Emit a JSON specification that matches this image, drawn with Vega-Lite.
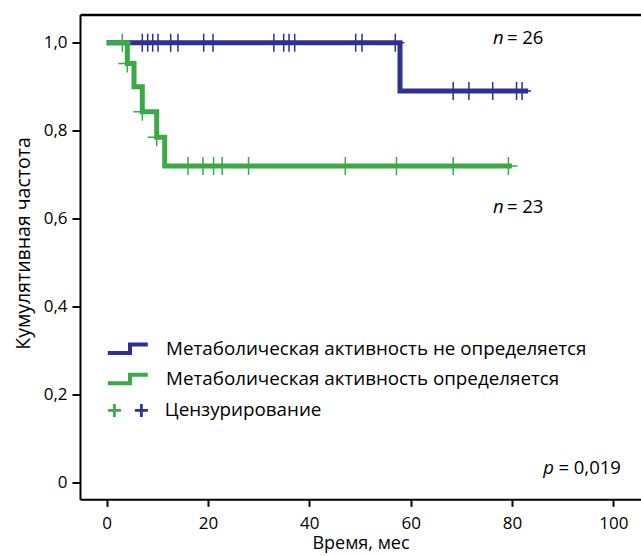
{
  "$schema": "https://vega.github.io/schema/vega-lite/v6.json",
  "autosize": {"type": "none"},
  "width": 561,
  "height": 484.8,
  "padding": {"left": 80, "top": 14.5, "right": 0, "bottom": 56.7},
  "background": "white",
  "config": {
    "view": {"stroke": null},
    "font": "Open Sans",
    "axis": {"grid": false, "labelFont": "Open Sans", "titleFont": "Open Sans", "labelColor": "black", "titleColor": "black", "titleFontWeight": "normal"},
    "legend": {"labelFont": "Open Sans", "labelColor": "black"}
  },
  "datasets": {
    "km": [
      {"group": "Метаболическая активность не определяется", "t": 0, "s": 1.0},
      {"group": "Метаболическая активность не определяется", "t": 57.9, "s": 0.89},
      {"group": "Метаболическая активность не определяется", "t": 83.2, "s": 0.89},
      {"group": "Метаболическая активность определяется", "t": 0, "s": 1.0},
      {"group": "Метаболическая активность определяется", "t": 4.07, "s": 0.953},
      {"group": "Метаболическая активность определяется", "t": 5.39, "s": 0.9},
      {"group": "Метаболическая активность определяется", "t": 7.03, "s": 0.843},
      {"group": "Метаболическая активность определяется", "t": 9.87, "s": 0.785},
      {"group": "Метаболическая активность определяется", "t": 11.45, "s": 0.72},
      {"group": "Метаболическая активность определяется", "t": 80.0, "s": 0.72}
    ],
    "cens": [
      {"group": "Метаболическая активность не определяется", "t": 7.03, "s": 1.0},
      {"group": "Метаболическая активность не определяется", "t": 8.09, "s": 1.0},
      {"group": "Метаболическая активность не определяется", "t": 9.08, "s": 1.0},
      {"group": "Метаболическая активность не определяется", "t": 10.13, "s": 1.0},
      {"group": "Метаболическая активность не определяется", "t": 12.63, "s": 1.0},
      {"group": "Метаболическая активность не определяется", "t": 14.07, "s": 1.0},
      {"group": "Метаболическая активность не определяется", "t": 19.15, "s": 1.0},
      {"group": "Метаболическая активность не определяется", "t": 20.98, "s": 1.0},
      {"group": "Метаболическая активность не определяется", "t": 33.0, "s": 1.0},
      {"group": "Метаболическая активность не определяется", "t": 34.94, "s": 1.0},
      {"group": "Метаболическая активность не определяется", "t": 35.99, "s": 1.0},
      {"group": "Метаболическая активность не определяется", "t": 37.11, "s": 1.0},
      {"group": "Метаболическая активность не определяется", "t": 49.15, "s": 1.0},
      {"group": "Метаболическая активность не определяется", "t": 50.4, "s": 1.0},
      {"group": "Метаболическая активность не определяется", "t": 56.97, "s": 1.0},
      {"group": "Метаболическая активность не определяется", "t": 68.4, "s": 0.89},
      {"group": "Метаболическая активность не определяется", "t": 71.5, "s": 0.89},
      {"group": "Метаболическая активность не определяется", "t": 76.2, "s": 0.89},
      {"group": "Метаболическая активность не определяется", "t": 80.9, "s": 0.89},
      {"group": "Метаболическая активность не определяется", "t": 82.0, "s": 0.89},
      {"group": "Метаболическая активность определяется", "t": 3.08, "s": 1.0},
      {"group": "Метаболическая активность определяется", "t": 4.07, "s": 0.953},
      {"group": "Метаболическая активность определяется", "t": 7.03, "s": 0.843},
      {"group": "Метаболическая активность определяется", "t": 9.87, "s": 0.785},
      {"group": "Метаболическая активность определяется", "t": 16.05, "s": 0.72},
      {"group": "Метаболическая активность определяется", "t": 19.0, "s": 0.72},
      {"group": "Метаболическая активность определяется", "t": 21.1, "s": 0.72},
      {"group": "Метаболическая активность определяется", "t": 22.8, "s": 0.72},
      {"group": "Метаболическая активность определяется", "t": 28.0, "s": 0.72},
      {"group": "Метаболическая активность определяется", "t": 47.1, "s": 0.72},
      {"group": "Метаболическая активность определяется", "t": 57.2, "s": 0.72},
      {"group": "Метаболическая активность определяется", "t": 68.4, "s": 0.72},
      {"group": "Метаболическая активность определяется", "t": 79.3, "s": 0.72}
    ]
  },
  "layer": [
    {
      "data": {"name": "km"},
      "mark": {"type": "line", "interpolate": "step-after", "strokeWidth": 5, "strokeCap": "butt"},
      "encoding": {
        "x": {"field": "t", "type": "quantitative",
          "scale": {"domain": [-5.27, 105.47], "nice": false, "zero": false},
          "axis": {"orient": "bottom", "values": [0, 20, 40, 60, 80, 100], "domain": true, "domainColor": "black", "domainWidth": 2,
            "ticks": true, "tickColor": "black", "tickWidth": 2, "tickSize": 7, "labelFontSize": 17, "labelPadding": 9,
            "title": "Время, мес", "titleFontSize": 18, "titlePadding": 3}},
        "y": {"field": "s", "type": "quantitative",
          "scale": {"domain": [-0.0377, 1.0641], "nice": false, "zero": false},
          "axis": {"values": [0, 0.2, 0.4, 0.6, 0.8, 1.0], "domain": true, "domainColor": "black", "domainWidth": 2,
            "ticks": true, "tickColor": "black", "tickWidth": 2, "tickSize": 8, "labelFontSize": 17, "labelPadding": 5,
            "labelExpr": "datum.value == 0 ? '0' : replace(format(datum.value, '.1f'), '.', ',')",
            "title": "Кумулятивная частота", "titleFontSize": 19.5, "titlePadding": 10, "titleY": 228.5}},
        "color": {"field": "group", "type": "nominal",
          "scale": {"domain": ["Метаболическая активность не определяется", "Метаболическая активность определяется"], "range": ["#2e3192", "#3aaa47"]},
          "legend": {"orient": "none", "legendX": 35.8, "legendY": 322.3, "title": null, "padding": 0,
            "symbolType": "M-2,0.425H0.22V-0.425H2", "symbolSize": 400, "symbolStrokeWidth": 4, "symbolFillColor": "transparent",
            "labelOffset": 26.2, "rowPadding": 4.2, "labelFontSize": 18.8, "labelLimit": 0, "direction": "vertical"}}
      }
    },
    {
      "data": {"name": "cens"},
      "transform": [{"filter": "datum.group == 'Метаболическая активность определяется'"}],
      "mark": {"type": "point", "shape": "M-1,0H1M0,-1V1", "size": 324, "filled": false, "strokeWidth": 1.5, "opacity": 1},
      "encoding": {
        "x": {"field": "t", "type": "quantitative", "scale": {"domain": [-5.27, 105.47], "nice": false, "zero": false}, "axis": null},
        "y": {"field": "s", "type": "quantitative", "scale": {"domain": [-0.0377, 1.0641], "nice": false, "zero": false}},
        "color": {"field": "group", "type": "nominal",
          "scale": {"domain": ["Метаболическая активность определяется"], "range": ["#3aaa47"]},
          "legend": {"orient": "none", "legendX": 25, "legendY": 386.5, "title": null, "padding": 0,
            "symbolType": "M-1,0H1M0,-1V1", "symbolSize": 169, "symbolStrokeWidth": 2.7,
            "labelOffset": 0, "labelFontSize": 18.8, "labelLimit": 0,
            "labelExpr": "' '"}}
      }
    },
    {
      "data": {"name": "cens"},
      "transform": [{"filter": "datum.group == 'Метаболическая активность не определяется'"}],
      "mark": {"type": "point", "shape": "M-1,0H1M0,-1V1", "size": 324, "filled": false, "strokeWidth": 1.5, "opacity": 1},
      "encoding": {
        "x": {"field": "t", "type": "quantitative", "scale": {"domain": [-5.27, 105.47], "nice": false, "zero": false}, "axis": null},
        "y": {"field": "s", "type": "quantitative", "scale": {"domain": [-0.0377, 1.0641], "nice": false, "zero": false}},
        "color": {"field": "group", "type": "nominal",
          "scale": {"domain": ["Метаболическая активность не определяется"], "range": ["#2e3192"]},
          "legend": {"orient": "none", "legendX": 52, "legendY": 386.5, "title": null, "padding": 0,
            "symbolType": "M-1,0H1M0,-1V1", "symbolSize": 169, "symbolStrokeWidth": 2.7,
            "labelOffset": 14, "labelFontSize": 18.8, "labelLimit": 0,
            "labelExpr": "'Цензурирование'"}}
      }
    },
    {
      "data": {"values": [{}]},
      "mark": {"type": "text", "text": "n", "fontStyle": "italic", "fontSize": 18.5, "align": "left", "baseline": "alphabetic", "color": "black"},
      "encoding": {
        "x": {"datum": 76.25, "type": "quantitative", "scale": {"domain": [-5.27, 105.47], "nice": false, "zero": false},
          "axis": {"orient": "top", "labels": false, "ticks": false, "domain": true, "domainColor": "black", "domainWidth": 2.5, "title": null, "grid": false}},
        "y": {"datum": 0.998, "type": "quantitative"}
      }
    },
    {
      "data": {"values": [{}]},
      "mark": {"type": "text", "text": "= 26", "fontSize": 18.5, "align": "left", "baseline": "alphabetic", "color": "black"},
      "encoding": {
        "x": {"datum": 79.0, "type": "quantitative", "axis": null},
        "y": {"datum": 0.998, "type": "quantitative"}
      }
    },
    {
      "data": {"values": [{}]},
      "mark": {"type": "text", "text": "n", "fontStyle": "italic", "fontSize": 18.5, "align": "left", "baseline": "alphabetic", "color": "black"},
      "encoding": {
        "x": {"datum": 76.25, "type": "quantitative", "axis": null},
        "y": {"datum": 0.612, "type": "quantitative"}
      }
    },
    {
      "data": {"values": [{}]},
      "mark": {"type": "text", "text": "= 23", "fontSize": 18.5, "align": "left", "baseline": "alphabetic", "color": "black"},
      "encoding": {
        "x": {"datum": 79.0, "type": "quantitative", "axis": null},
        "y": {"datum": 0.612, "type": "quantitative"}
      }
    },
    {
      "data": {"values": [{}]},
      "mark": {"type": "text", "text": "p", "fontStyle": "italic", "fontSize": 18.5, "align": "right", "baseline": "alphabetic", "color": "black"},
      "encoding": {
        "x": {"datum": 88.3, "type": "quantitative", "axis": null},
        "y": {"datum": 0.0198, "type": "quantitative"}
      }
    },
    {
      "data": {"values": [{}]},
      "mark": {"type": "text", "text": "= 0,019", "fontSize": 18.5, "align": "right", "baseline": "alphabetic", "color": "black"},
      "encoding": {
        "x": {"datum": 101.5, "type": "quantitative", "axis": null},
        "y": {"datum": 0.0198, "type": "quantitative"}
      }
    }
  ],
  "resolve": {"scale": {"color": "independent"}, "axis": {"x": "independent"}}
}
